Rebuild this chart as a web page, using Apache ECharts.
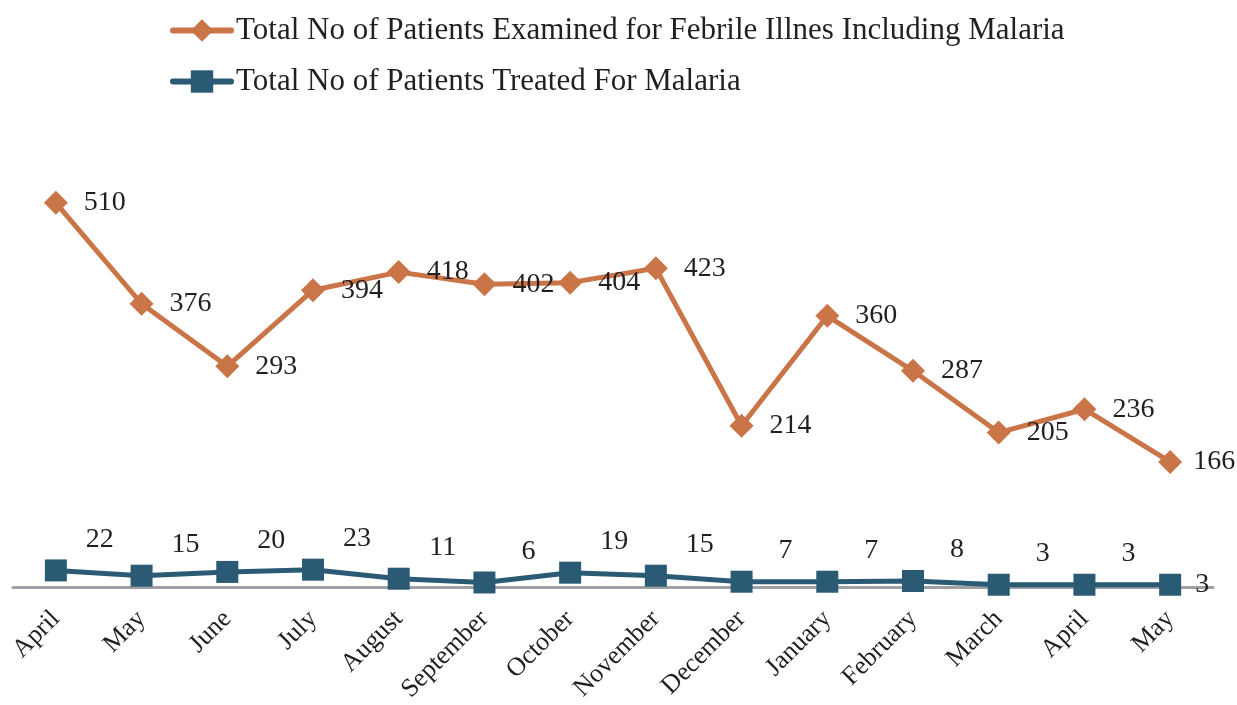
<!DOCTYPE html>
<html>
<head>
<meta charset="utf-8">
<script src="https://cdn.jsdelivr.net/npm/echarts@6/dist/echarts.min.js"></script>
<style>
  html, body { margin: 0; padding: 0; background: #fff; }
  #main { width: 1237px; height: 705px; }
</style>
</head>
<body>
<div id="main"></div>
<script>
const months = ['April', 'May', 'June', 'July', 'August', 'September', 'October',
  'November', 'December', 'January', 'February', 'March', 'April', 'May'];
const examined = [510, 376, 293, 394, 418, 402, 404, 423, 214, 360, 287, 205, 236, 166];
const treated = [22, 15, 20, 23, 11, 6, 19, 15, 7, 7, 8, 3, 3, 3];

const FONT = '"Liberation Serif", "DejaVu Serif", serif';
const ORANGE = '#c97548';
const BLUE = '#2b5b74';
const TEXT = '#231f20';

const chart = echarts.init(document.getElementById('main'));

// last points get their labels nudged so they stay inside the canvas
const examinedData = examined.map((v, i) => i === examined.length - 1
  ? { value: v, label: { distance: 11 } }
  : v);
// last blue label sits to the right of the point, the rest above and shifted right
const treatedData = treated.map((v, i) => i === treated.length - 1
  ? { value: v, label: { position: 'right', distance: 14, offset: [0, 0] } }
  : v);

chart.setOption({
  animation: false,
  textStyle: { fontFamily: FONT },
  legend: {
    orient: 'vertical',
    left: 165,
    top: 10,
    itemWidth: 58,
    itemHeight: 28,
    itemGap: 20,
    lineStyle: { width: 6, cap: 'round' },
    textStyle: { fontFamily: FONT, fontSize: 31, color: TEXT, padding: [0, 0, 0, 0] },
    data: [
      'Total No of Patients Examined for Febrile Illnes Including Malaria',
      'Total No of Patients Treated For Malaria'
    ]
  },
  grid: { left: 13, right: 24, top: 135, bottom: 118 },
  xAxis: {
    type: 'category',
    data: months,
    boundaryGap: true,
    axisLine: { lineStyle: { color: '#a0a0a4', width: 3 } },
    axisTick: { show: false },
    axisLabel: {
      rotate: 45,
      interval: 0,
      margin: 28,
      fontFamily: FONT,
      fontSize: 26,
      color: TEXT
    }
  },
  yAxis: {
    type: 'value',
    min: 0,
    max: 600,
    show: false,
    splitLine: { show: false }
  },
  series: [
    {
      name: 'Total No of Patients Examined for Febrile Illnes Including Malaria',
      type: 'line',
      data: examinedData,
      symbol: 'diamond',
      symbolSize: 24,
      color: ORANGE,
      lineStyle: { width: 5, color: ORANGE },
      itemStyle: { color: ORANGE },
      label: {
        show: true,
        position: 'right',
        distance: 16,
        fontFamily: FONT,
        fontSize: 28,
        color: TEXT
      }
    },
    {
      name: 'Total No of Patients Treated For Malaria',
      type: 'line',
      data: treatedData,
      symbol: 'rect',
      symbolSize: 22,
      color: BLUE,
      lineStyle: { width: 5, color: BLUE },
      itemStyle: { color: BLUE },
      label: {
        show: true,
        position: 'top',
        distance: 6,
        offset: [44, 0],
        fontFamily: FONT,
        fontSize: 28,
        color: TEXT
      }
    }
  ]
});
</script>
</body>
</html>
